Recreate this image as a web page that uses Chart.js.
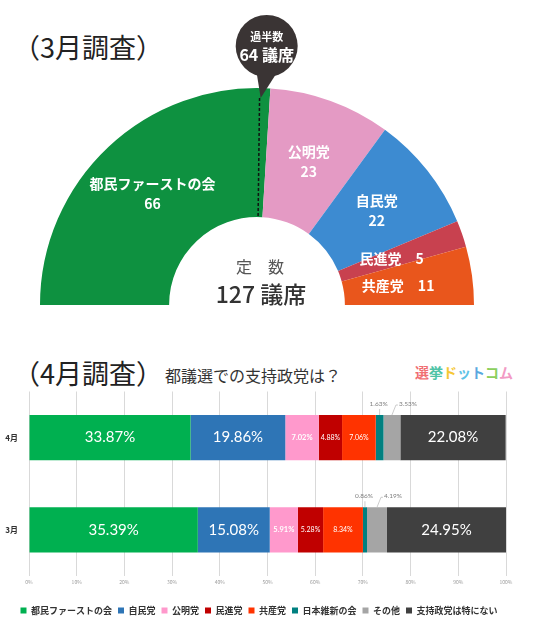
<!DOCTYPE html>
<html lang="ja">
<head>
<meta charset="utf-8">
<script src="https://cdn.jsdelivr.net/npm/chart.js@4.4.0/dist/chart.umd.min.js"></script>
<style>
  html, body { margin: 0; padding: 0; background: #fff; }
  body { width: 537px; height: 627px; position: relative; overflow: hidden; font-family: 'Noto Sans CJK JP', sans-serif; }
  canvas { position: absolute; left: 0; }
  #seatChart { top: 0; }
  #pollChart { top: 380px; }
  .title { position: absolute; font-size: 27px; line-height: 27px; color: #222; white-space: nowrap; }
  .sub { position: absolute; left: 165px; top: 367px; font-size: 16px; line-height: 16px; color: #333; white-space: nowrap; }
  .logo { position: absolute; left: 415px; top: 365px; font-size: 14px; line-height: 14px; font-weight: bold; white-space: nowrap; }
</style>
</head>
<body>
<div class="title" style="left:13px;top:33px">（3月調査）</div>
<div class="title" style="left:13px;top:359px">（4月調査）</div>
<div class="sub">都議選での支持政党は？</div>
<div class="logo"><span style="color:#f06e72">選</span><span style="color:#4ec3a6">挙</span><span style="color:#f6c735">ド</span><span style="color:#5ec2e6">ッ</span><span style="color:#5aa8e0">ト</span><span style="color:#8ccf5e">コ</span><span style="color:#f29ac4">ム</span></div>
<canvas id="seatChart" width="537" height="340"></canvas>
<canvas id="pollChart" width="537" height="247"></canvas>
<script>
// 議席数 (3月調査)
const seatParties = ['都民ファーストの会', '公明党', '自民党', '民進党', '共産党'];
const seats = [66, 23, 22, 5, 11];
const majority = 64;
const seatColors = ['#0e9140', '#e49ac4', '#3d8bd1', '#c8414f', '#e9561c'];

// 支持政党 (4月・3月)
const months = ['4月', '3月'];
const parties = ['都民ファーストの会', '自民党', '公明党', '民進党', '共産党', '日本維新の会', 'その他', '支持政党は特にない'];
const aprShares = [33.87, 19.86, 7.02, 4.88, 7.06, 1.63, 3.53, 22.08];
const marShares = [35.39, 15.08, 5.91, 5.28, 8.34, 0.86, 4.19, 24.95];
const partyColors = ['#00b050', '#2e75b6', '#ff99cc', '#c00000', '#ff3300', '#008080', '#a5a5a5', '#404040'];

Chart.defaults.font.family = "'Noto Sans CJK JP', sans-serif";

const seatLabels = {
    id: 'seatLabels',
    afterDatasetsDraw(chart) {
        const ctx = chart.ctx;
        const arcs = chart.getDatasetMeta(0).data;
        const cx = arcs[0].x, cy = arcs[0].y;
        const outer = arcs[0].outerRadius, inner = arcs[0].innerRadius;
        ctx.save();
        ctx.textAlign = 'center';
        ctx.textBaseline = 'middle';
        ctx.fillStyle = '#fff';
        ctx.font = "bold 14px 'Noto Sans CJK JP'";
        arcs.forEach((arc, i) => {
            const mid = (arc.startAngle + arc.endAngle) / 2;
            const r = (inner + outer) / 2 - (seats[i] < 15 ? 10 : 0);
            const x = cx + Math.cos(mid) * r;
            const y = cy + Math.sin(mid) * r;
            if (seats[i] < 15) {
                ctx.fillText(seatParties[i] + '\u3000' + seats[i], x, y);
            } else {
                ctx.fillText(seatParties[i], x, y - 10);
                ctx.fillText(String(seats[i]), x, y + 10);
            }
        });

        // 定数
        const total = seats.reduce((a, b) => a + b, 0);
        ctx.fillStyle = '#555';
        ctx.font = "16px 'Noto Sans CJK JP'";
        ctx.fillText('定　数', cx + 3, cy - 38);
        ctx.fillStyle = '#333';
        ctx.font = "500 23px 'Noto Sans CJK JP'";
        ctx.fillText(total + ' 議席', cx + 4, cy - 11);

        // 過半数 marker
        const a = Math.PI + (majority / total) * Math.PI;
        const ox = cx + Math.cos(a) * outer, oy = cy + Math.sin(a) * outer;
        const ix = cx + Math.cos(a) * inner, iy = cy + Math.sin(a) * inner;
        const tipY = oy + 10;
        ctx.setLineDash([3, 2]);
        ctx.strokeStyle = '#111';
        ctx.lineWidth = 1.5;
        ctx.beginPath();
        ctx.moveTo(ox + (ix - ox) * 10 / (outer - inner), tipY);
        ctx.lineTo(ix, iy);
        ctx.stroke();
        ctx.setLineDash([]);
        const mx = ox + 7, my = 46, mr = 31;
        ctx.fillStyle = '#3a3434';
        ctx.beginPath();
        ctx.arc(mx, my, mr, 0, Math.PI * 2);
        ctx.fill();
        ctx.beginPath();
        ctx.moveTo(mx - 10, my + mr - 4);
        ctx.lineTo(ox + 1, tipY);
        ctx.lineTo(mx + 10, my + mr - 4);
        ctx.closePath();
        ctx.fill();
        ctx.fillStyle = '#fff';
        ctx.font = "bold 11px 'Noto Sans CJK JP'";
        ctx.fillText('過半数', mx, my - 9);
        ctx.font = "bold 16px 'Noto Sans CJK JP'";
        ctx.fillText(majority + ' 議席', mx, my + 9);
        ctx.restore();
    }
};

new Chart(document.getElementById('seatChart'), {
    type: 'doughnut',
    data: {
        labels: seatParties,
        datasets: [{
            data: seats,
            backgroundColor: seatColors,
            borderWidth: 0
        }]
    },
    options: {
        responsive: false,
        animation: false,
        rotation: -90,
        circumference: 180,
        cutout: '40.5%',
        layout: { padding: { left: 40, right: 63, top: 88, bottom: 35 } },
        plugins: {
            legend: { display: false },
            tooltip: { enabled: false }
        }
    },
    plugins: [seatLabels]
});

const barLabels = {
    id: 'barLabels',
    afterDatasetsDraw(chart) {
        const ctx = chart.ctx;
        ctx.save();
        ctx.textBaseline = 'middle';

        // month labels on the category axis
        const yScale = chart.scales.y;
        ctx.fillStyle = '#333';
        ctx.textAlign = 'right';
        ctx.font = "bold 8px 'Noto Sans CJK JP'";
        months.forEach((m, j) => {
            ctx.fillText(m, chart.chartArea.left - 11, yScale.getPixelForValue(j));
        });

        chart.data.datasets.forEach((ds, i) => {
            chart.getDatasetMeta(i).data.forEach((bar, j) => {
                const v = ds.data[j];
                const text = v.toFixed(2) + '%';
                const x = (bar.x + bar.base) / 2;
                const top = bar.y - bar.height / 2;
                if (i === 5) {
                    ctx.fillStyle = '#7f7f7f';
                    ctx.font = "6.5px Lato";
                    ctx.textAlign = 'center';
                    ctx.fillText(text, x - 1, top - 11);
                    ctx.strokeStyle = '#bfbfbf';
                    ctx.lineWidth = 0.8;
                    ctx.beginPath();
                    ctx.moveTo(x, top);
                    ctx.lineTo(x, top - 6);
                    ctx.stroke();
                } else if (i === 6) {
                    ctx.strokeStyle = '#bfbfbf';
                    ctx.lineWidth = 0.8;
                    ctx.beginPath();
                    ctx.moveTo(x, top);
                    ctx.lineTo(x + 4, top - 10);
                    ctx.lineTo(x + 6, top - 10);
                    ctx.stroke();
                    ctx.fillStyle = '#7f7f7f';
                    ctx.font = "6.5px Lato";
                    ctx.textAlign = 'left';
                    ctx.fillText(text, x + 7, top - 11);
                } else {
                    ctx.fillStyle = '#fff';
                    ctx.textAlign = 'center';
                    ctx.font = v >= 15 ? "15px Lato" : (i === 2 ? "bold 7.5px Lato" : "7px Lato");
                    ctx.fillText(text, x, bar.y);
                }
            });
        });
        ctx.restore();
    }
};

new Chart(document.getElementById('pollChart'), {
    type: 'bar',
    data: {
        labels: months,
        datasets: parties.map((p, i) => ({
            label: p,
            data: [aprShares[i], marShares[i]],
            backgroundColor: partyColors[i],
            borderWidth: 0,
            categoryPercentage: 0.49,
            barPercentage: 1
        }))
    },
    options: {
        indexAxis: 'y',
        responsive: false,
        animation: false,
        layout: { padding: { left: 12, right: 31, top: 11.5, bottom: 2 } },
        scales: {
            x: {
                stacked: true,
                min: 0,
                max: 100,
                ticks: {
                    stepSize: 10,
                    callback: v => v + '%',
                    font: { size: 5 },
                    color: '#9a9a9a',
                    padding: 3
                },
                grid: { color: '#d9d9d9', drawTicks: false },
                border: { display: false },
                afterFit: axis => { axis.height = 24; }
            },
            y: {
                stacked: true,
                grid: { display: false },
                border: { display: false },
                ticks: { display: false },
                afterFit: axis => { axis.width = 17; }
            }
        },
        plugins: {
            legend: {
                position: 'bottom',
                labels: {
                    boxWidth: 6,
                    boxHeight: 6,
                    padding: 6,
                    color: '#333',
                    font: { size: 9, weight: 'bold' }
                }
            },
            tooltip: { enabled: false }
        }
    },
    plugins: [barLabels]
});
</script>
</body>
</html>
